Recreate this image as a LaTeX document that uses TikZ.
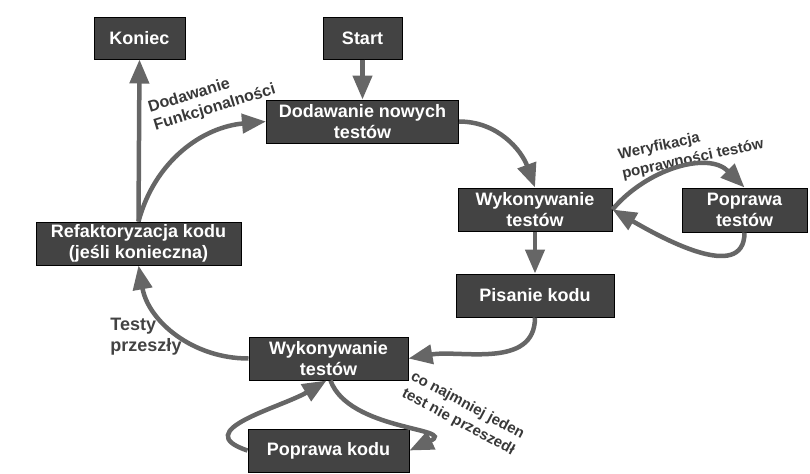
\documentclass[tikz,border=0pt]{standalone}
\usepackage{fontspec}
\setmainfont{Liberation Sans}
\usetikzlibrary{arrows.meta,positioning}
\definecolor{boxfill}{HTML}{434343}
\definecolor{arrgray}{HTML}{666666}
\definecolor{labgray}{HTML}{383838}

\begin{document}
\begin{tikzpicture}[
  x=0.5pt, y=-0.5pt,
  box/.style={draw=black, fill=boxfill, text=white, align=center, font=\fontsize{9}{10.5}\selectfont\bfseries, inner sep=1pt, line width=0.5pt},
  arr/.style={-{Triangle[length=12pt, width=9.5pt]}, line width=2.25pt, draw=arrgray},
  lab/.style={text=labgray, align=left, font=\fontsize{7.5}{9.5}\selectfont\bfseries, inner sep=0pt}
]
\useasboundingbox (0,0) rectangle (810,473);
% boxes
\node[box, minimum width=45.5pt, minimum height=21pt] (koniec) at (139.5,38) {Koniec};
\node[box, minimum width=39.5pt, minimum height=21pt] (start) at (362.5,38) {Start};
\node[box, minimum width=96pt, minimum height=21.5pt, below=20pt of start] (dod) {Dodawanie nowych\\testów};
\node[box, minimum width=77pt, minimum height=21.5pt] (wyk1) at (535,209.5) {Wykonywanie\\testów};
\node[box, minimum width=62.5pt, minimum height=22pt] (popt) at (744.5,210) {Poprawa\\testów};
\node[box, minimum width=79pt, minimum height=21.5pt, below=21pt of wyk1] (pis) {Pisanie kodu};
\node[box, minimum width=102.5pt, minimum height=21.5pt] (ref) at (138.5,243.5) {Refaktoryzacja kodu\\(jeśli konieczna)};
\node[box, minimum width=79.5pt, minimum height=21.5pt] (wyk2) at (328.5,358.5) {Wykonywanie\\testów};
\node[box, minimum width=80.5pt, minimum height=21.5pt, below=24pt of wyk2] (popk) {Poprawa kodu};
% labels
\node[lab, rotate=17, font=\fontsize{8}{9.5}\selectfont\bfseries] (l1) at (212,99) {Dodawanie\\Funkcjonalności};
\node[lab, rotate=12] (l2) at (691,150) {Weryfikacja\\poprawności testów};
\node[lab, font=\fontsize{9}{10.5}\selectfont\bfseries, text=boxfill] (l3) at (146,337) {Testy\\przeszły};
\node[lab, rotate=-28] (l4) at (463,414) {co najmniej jeden\\test nie przeszedł};
% connectors
\draw[arr] (start) -- (dod);
\draw[arr] (dod.east) to[out=0, in=110] (wyk1.north);
\draw[arr] (wyk1) -- (pis);
\draw[arr] (wyk1.east) to[out=50, in=135] (popt.north);
\draw[arr] (popt.south) to[out=-90, in=-30] (wyk1.east);
\draw[arr] (pis.south) to[out=-90, in=10] (wyk2.east);
\draw[arr] (wyk2.west) to[out=180, in=-80] (ref.south);
\draw[arr] (ref.north) -- (koniec.south);
\draw[arr] (ref.north) to[out=75, in=185] (dod.west);
\draw[arr] ([xshift=1pt]wyk2.south) to[out=-70, in=25, looseness=1.3] (popk.east);
\draw[arr] (popk.west) .. controls +(-60,-20) and +(-45,27) .. ([xshift=-1pt]wyk2.south);
\end{tikzpicture}
\end{document}
